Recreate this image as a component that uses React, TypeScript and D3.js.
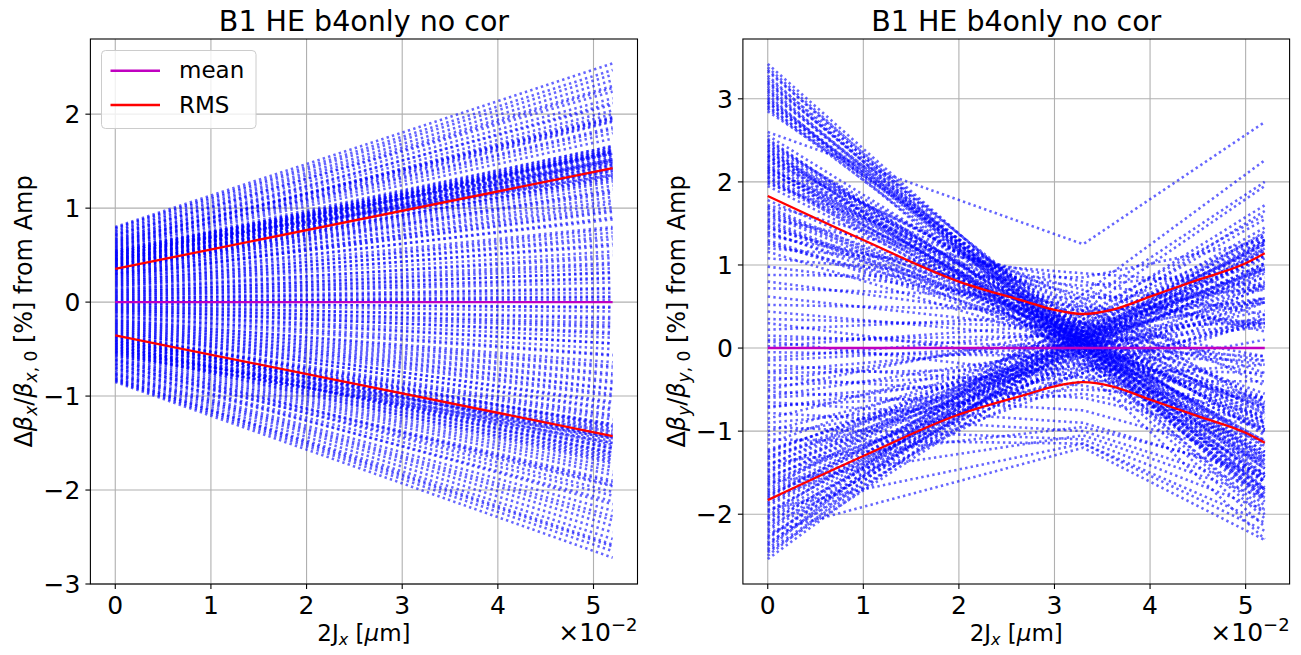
import React from "react";
import * as d3 from "d3";

// ---------- shared labels / ticks ----------
const TITLE = "B1 HE b4only no cor";
const X_TICKS = [0, 1, 2, 3, 4, 5];
const LEFT_Y_TICKS = [-3, -2, -1, 0, 1, 2];
const RIGHT_Y_TICKS = [-2, -1, 0, 1, 2, 3];
const LEGEND_LABELS = ["mean", "RMS"];

// ---------- left panel (Δβx) : value at 2Jx = 0 and at 2Jx = 5.2 (×1e-2) ----------
const LEFT_X = [0, 5.2];
const LEFT_LINES: number[][] = [
  [0.80, 2.54], [0.79, 2.47], [0.78, 2.42], [0.76, 2.36], [0.75, 2.30], [0.73, 2.24], [0.72, 2.17],
  [0.70, 2.10], [0.68, 2.04], [0.66, 1.97], [0.65, 1.95], [0.64, 1.96], [0.62, 1.93], [0.61, 1.86],
  [0.60, 1.84], [0.58, 1.80], [0.57, 1.74], [0.56, 1.50], [0.55, 1.66], [0.54, 1.35], [0.53, 1.63],
  [0.52, 1.61], [0.51, 1.42], [0.50, 1.60], [0.49, 1.58], [0.48, 1.56], [0.47, 1.62], [0.46, 1.54],
  [0.45, 1.52], [0.44, 1.50], [0.43, 1.47], [0.42, 1.60], [0.41, 1.43], [0.40, 1.40], [0.39, 1.38],
  [0.38, 1.52], [0.37, 1.33], [0.36, 1.30], [0.35, 1.28], [0.34, 1.24], [0.33, 1.16], [0.31, 1.08],
  [0.30, 1.01], [0.29, 0.96], [0.27, 0.88], [0.25, 0.80], [0.23, 0.74], [0.22, 0.67], [0.20, 0.60],
  [0.18, 0.54], [0.16, 0.47], [0.14, 0.42], [0.12, 0.36], [0.11, 0.31], [0.09, 0.26], [0.07, 0.21],
  [0.05, 0.15], [0.04, 0.10], [0.02, 0.06], [0.01, 0.02],
  [0.55, 1.58], [0.53, 1.52], [0.52, 1.66], [0.50, 1.48], [0.49, 1.64], [0.47, 1.40], [0.46, 1.60],
  [0.45, 1.45], [0.44, 1.58], [0.43, 1.36], [0.41, 1.50], [0.40, 1.32], [0.39, 1.46], [0.37, 1.42],
  [0.36, 1.18], [0.34, 1.35], [0.32, 1.20], [0.30, 1.12], [0.28, 0.98], [0.26, 1.05], [0.24, 0.90],
  [0.21, 0.78], [0.19, 0.70], [0.17, 0.62], [0.13, 0.50], [0.10, 0.40], [0.08, 0.32], [0.06, 0.25],
  [0.03, 0.14], [0.00, 0.05], [0.63, 2.00], [0.67, 2.12], [0.59, 1.92], [0.71, 2.28],
  [-0.85, -2.72], [-0.84, -2.65], [-0.83, -2.60], [-0.82, -2.52], [-0.80, -2.45], [-0.78, -2.38],
  [-0.76, -2.28], [-0.75, -2.22], [-0.73, -2.12], [-0.71, -2.06], [-0.69, -1.96], [-0.67, -1.92],
  [-0.65, -1.90], [-0.63, -1.84], [-0.61, -1.80], [-0.60, -1.76], [-0.58, -1.72], [-0.57, -1.45],
  [-0.56, -1.68], [-0.54, -1.64], [-0.53, -1.38], [-0.52, -1.60], [-0.50, -1.56], [-0.49, -1.54],
  [-0.47, -1.50], [-0.46, -1.62], [-0.44, -1.44], [-0.43, -1.40], [-0.41, -1.37], [-0.40, -1.33],
  [-0.38, -1.30], [-0.37, -1.48], [-0.36, -1.25], [-0.35, -1.20], [-0.33, -1.13], [-0.32, -1.06],
  [-0.30, -1.00], [-0.28, -0.93], [-0.26, -0.86], [-0.24, -0.78], [-0.22, -0.70], [-0.20, -0.64],
  [-0.18, -0.57], [-0.16, -0.50], [-0.14, -0.44], [-0.12, -0.38], [-0.10, -0.32], [-0.09, -0.27],
  [-0.07, -0.22], [-0.05, -0.16], [-0.03, -0.10], [-0.02, -0.05],
  [-0.55, -1.50], [-0.53, -1.70], [-0.51, -1.45], [-0.50, -1.66], [-0.48, -1.42], [-0.47, -1.60],
  [-0.45, -1.35], [-0.44, -1.56], [-0.42, -1.30], [-0.41, -1.52], [-0.39, -1.44], [-0.37, -1.22],
  [-0.34, -1.32], [-0.31, -1.15], [-0.29, -1.08], [-0.27, -0.98], [-0.25, -0.92], [-0.23, -0.84],
  [-0.21, -0.76], [-0.19, -0.68], [-0.15, -0.56], [-0.11, -0.44], [-0.08, -0.34], [-0.06, -0.25],
  [-0.04, -0.18], [-0.01, -0.06], [-0.62, -1.95], [-0.66, -2.02], [-0.70, -2.15], [-0.77, -2.32],
  [-0.81, -2.58],
];
const LEFT_MEAN_X = [0, 5.2];
const LEFT_MEAN = [0, 0];
const LEFT_RMS_X = [0, 5.2];
const LEFT_RMS = [0.354, 1.425];

// ---------- right panel (Δβy) : value at 2Jx = 0, 3.3 and 5.2 (×1e-2) ----------
const RIGHT_X = [0, 3.3, 5.2];
const RIGHT_LINES: number[][] = [
  [3.42, 0.05, -1.90], [3.38, -0.05, -2.00], [3.33, 0.10, -1.75], [3.28, -0.15, -2.15],
  [3.22, 0.00, -1.85], [3.18, 0.20, -1.55], [3.15, -0.10, -1.95], [3.12, 0.05, -1.72],
  [3.08, 0.15, -1.60], [3.05, -0.25, -2.30], [3.02, 0.00, -1.78], [2.98, 0.10, -1.62],
  [2.95, 0.25, -1.45], [2.92, -0.05, -1.80], [2.88, 0.05, -1.70], [2.85, 0.30, -1.35],
  [3.20, 0.05, -1.80], [3.10, 0.00, -1.82], [3.00, 0.12, -1.60], [2.96, 0.05, -1.68],
  [3.25, 0.15, -1.70], [3.35, -0.10, -2.05], [2.90, 0.18, -1.52],
  [2.60, 1.25, 2.72],
  [2.56, 0.20, -1.25], [2.52, -0.10, -1.62], [2.48, 0.05, -1.38], [2.45, 0.30, -1.05],
  [2.42, -0.20, -1.70], [2.40, 0.10, -1.30], [2.37, 0.00, -1.42], [2.34, 0.40, -0.90],
  [2.31, -0.05, -1.45], [2.28, 0.15, -1.18], [2.25, 0.55, -0.70], [2.22, 0.05, -1.28],
  [2.20, -0.15, -1.52], [2.17, 0.25, -1.02], [2.14, 0.00, -1.30], [2.11, 0.35, -0.85],
  [2.08, 0.10, -1.12], [2.05, -0.10, -1.40], [2.02, 0.20, -0.98], [1.98, 0.60, -0.45],
  [1.95, 0.05, -1.15],
  [2.50, 0.05, -1.45], [2.44, 0.10, -1.35], [2.38, -0.08, -1.55], [2.32, 0.20, -1.20],
  [2.26, 0.00, -1.38], [2.18, 0.08, -1.25], [2.12, 0.15, -1.15], [2.06, 0.00, -1.32],
  [2.00, 0.10, -1.12], [2.30, 0.45, -0.80], [2.15, 0.50, -0.65],
  [1.78, 0.15, -0.95], [1.72, 0.70, 0.20], [1.68, 0.00, -1.00], [1.64, 0.30, -0.60],
  [1.60, 0.10, -0.85], [1.56, 0.80, 0.40], [1.52, -0.05, -0.98], [1.48, 0.20, -0.65],
  [1.44, 0.45, -0.30], [1.40, 0.05, -0.78], [1.35, 0.65, 0.25], [1.30, 0.10, -0.68],
  [1.25, 0.30, -0.35], [1.20, 0.90, 0.75], [1.16, 0.00, -0.70],
  [1.70, 0.10, -0.90], [1.62, 0.20, -0.75], [1.54, 0.05, -0.88], [1.46, 0.15, -0.72],
  [1.38, 0.25, -0.55], [1.28, 0.05, -0.72],
  [1.08, 0.75, 0.95], [0.98, 0.50, 0.30], [0.88, 0.85, 1.30], [0.80, 0.30, -0.10],
  [0.72, 0.60, 0.70], [0.62, 0.20, -0.15], [0.52, 0.45, 0.55], [0.44, 0.10, -0.20],
  [0.35, 0.25, 0.30], [0.30, -0.20, -0.60], [0.22, 0.40, 0.75], [0.15, 0.00, -0.10],
  [0.08, -0.35, -0.80], [0.02, 0.30, 0.60], [-0.05, -0.10, -0.15], [-0.12, 0.20, 0.55],
  [-0.20, -0.45, -0.90], [-0.28, 0.05, 0.30], [-0.35, -0.60, -1.10], [-0.40, 0.15, 0.60],
  [-0.60, -0.35, -0.20], [-0.30, -0.25, -0.30], [-0.15, 0.05, 0.25], [0.10, 0.15, 0.35],
  [-0.70, -0.50, -0.60], [-0.50, 0.25, 0.85],
  [-0.45, -0.30, 0.10], [-0.52, -0.75, -1.35], [-0.58, 0.00, 0.45], [-0.65, -0.90, -1.55],
  [-0.72, -0.20, 0.30], [-0.78, -1.00, -1.70], [-0.85, 0.10, 0.75], [-0.90, -0.55, -0.95],
  [-0.95, -1.10, -1.95], [-1.00, -0.05, 0.60], [-1.05, -0.40, -0.40], [-1.10, -1.15, -2.10],
  [-1.15, 0.20, 0.95],
  [-1.22, -0.10, 0.55], [-1.26, 0.15, 0.95], [-1.30, -0.25, 0.35], [-1.34, 0.05, 0.80],
  [-1.38, -0.95, -1.50], [-1.42, 0.30, 1.20], [-1.46, -0.05, 0.72], [-1.50, 0.10, 0.95],
  [-1.54, -0.30, 0.40], [-1.58, 0.20, 1.15], [-1.62, -1.05, -1.80], [-1.66, 0.00, 0.90],
  [-1.70, 0.35, 1.35], [-1.74, -0.15, 0.78], [-1.78, 0.10, 1.08], [-1.82, -0.40, 0.35],
  [-1.86, 0.25, 1.30], [-1.90, -0.05, 0.95], [-1.94, -1.15, -2.20], [-1.98, 0.15, 1.25],
  [-2.02, 0.40, 1.60], [-2.06, -0.10, 1.00], [-2.10, 0.05, 1.20], [-2.14, -0.25, 0.75],
  [-2.18, 0.30, 1.55], [-2.22, -1.20, -2.31], [-2.26, 0.10, 1.30], [-2.30, 0.55, 2.00],
  [-2.34, -0.05, 1.18], [-2.38, 0.20, 1.45], [-2.42, 0.65, 2.26], [-2.46, 0.00, 1.28],
  [-2.50, 0.45, 1.95], [-2.54, 0.25, 1.65],
  [-1.24, 0.05, 0.85], [-1.32, 0.10, 0.98], [-1.40, 0.00, 0.92], [-1.48, 0.15, 1.10],
  [-1.56, 0.05, 1.02], [-1.64, 0.12, 1.12], [-1.72, 0.00, 1.02], [-1.80, 0.18, 1.25],
  [-1.88, 0.08, 1.18], [-1.96, 0.00, 1.12], [-2.04, 0.12, 1.28], [-2.12, 0.20, 1.38],
  [-2.20, 0.05, 1.25], [-2.28, 0.15, 1.35], [-2.36, 0.35, 1.72], [-2.44, 0.10, 1.40],
  [-1.60, -0.20, 0.60], [-1.76, -0.30, 0.55],
];
const RIGHT_MEAN_X = [0, 5.2];
const RIGHT_MEAN = [0, 0];
const RIGHT_RMS_X = [0, 1, 2, 2.7, 3.0, 3.3, 3.6, 4.0, 4.5, 5.0, 5.2];
const RIGHT_RMS = [1.83, 1.3, 0.8, 0.56, 0.46, 0.41, 0.46, 0.62, 0.82, 1.02, 1.14];

// ---------- styling ----------
const FONT = "DejaVu Sans, Liberation Sans, sans-serif";
const BLUE = "#0000ff";
const RED = "#ff0000";
const MAGENTA = "#c000c0";
const GRID = "#b0b0b0";

type Box = { l: number; r: number; t: number; b: number };

function YLabel({ x, y, axis }: { x: number; y: number; axis: string }) {
  return (
    <text
      transform={`translate(${x},${y}) rotate(-90)`}
      textAnchor="middle"
      fontFamily={FONT}
      fontSize={24}
      fill="#000"
    >
      <tspan>Δ</tspan>
      <tspan fontStyle="italic">β</tspan>
      <tspan fontStyle="italic" fontSize={17} dy={5}>{axis}</tspan>
      <tspan dy={-5}>/</tspan>
      <tspan fontStyle="italic">β</tspan>
      <tspan fontSize={17} dy={5}>
        <tspan fontStyle="italic">{axis}</tspan>, 0
      </tspan>
      <tspan dy={-5}> [%] from Amp</tspan>
    </text>
  );
}

function Panel(props: {
  box: Box;
  xDomain: [number, number];
  yDomain: [number, number];
  yTicks: number[];
  xs: number[];
  lines: number[][];
  meanX: number[];
  mean: number[];
  rmsX: number[];
  rms: number[];
  axis: string;
  legend: boolean;
}) {
  const { box, xDomain, yDomain, yTicks, xs, lines, meanX, mean, rmsX, rms, axis, legend } = props;
  const x = d3.scaleLinear().domain(xDomain).range([box.l, box.r]);
  const y = d3.scaleLinear().domain(yDomain).range([box.b, box.t]);
  const line = d3
    .line<[number, number]>()
    .x((d) => x(d[0]))
    .y((d) => y(d[1]));
  const smooth = d3
    .line<[number, number]>()
    .x((d) => x(d[0]))
    .y((d) => y(d[1]))
    .curve(d3.curveMonotoneX);
  const cx = (box.l + box.r) / 2;
  const cy = (box.t + box.b) / 2;

  return (
    <g>
      {X_TICKS.map((t) => (
        <line key={"gx" + t} x1={x(t)} x2={x(t)} y1={box.t} y2={box.b} stroke={GRID} strokeWidth={1.1} />
      ))}
      {yTicks.map((t) => (
        <line key={"gy" + t} x1={box.l} x2={box.r} y1={y(t)} y2={y(t)} stroke={GRID} strokeWidth={1.1} />
      ))}
      <g fill="none" stroke={BLUE} strokeOpacity={0.6} strokeWidth={2.6} strokeDasharray="2.4,3.2">
        {lines.map((vals, i) => (
          <path key={i} d={line(xs.map((xv, j) => [xv, vals[j]] as [number, number])) || ""} />
        ))}
      </g>
      <path
        d={line(meanX.map((xv, j) => [xv, mean[j]] as [number, number])) || ""}
        fill="none"
        stroke={MAGENTA}
        strokeWidth={2.4}
      />
      <path
        d={smooth(rmsX.map((xv, j) => [xv, rms[j]] as [number, number])) || ""}
        fill="none"
        stroke={RED}
        strokeWidth={2.3}
      />
      <path
        d={smooth(rmsX.map((xv, j) => [xv, -rms[j]] as [number, number])) || ""}
        fill="none"
        stroke={RED}
        strokeWidth={2.3}
      />
      <rect x={box.l} y={box.t} width={box.r - box.l} height={box.b - box.t} fill="none" stroke="#000" strokeWidth={1.1} />
      {X_TICKS.map((t) => (
        <g key={"tx" + t}>
          <line x1={x(t)} x2={x(t)} y1={box.b} y2={box.b + 5} stroke="#000" strokeWidth={1.1} />
          <text x={x(t)} y={box.b + 30} textAnchor="middle" fontFamily={FONT} fontSize={25}>
            {t}
          </text>
        </g>
      ))}
      {yTicks.map((t) => (
        <g key={"ty" + t}>
          <line x1={box.l - 5} x2={box.l} y1={y(t)} y2={y(t)} stroke="#000" strokeWidth={1.1} />
          <text x={box.l - 10} y={y(t)} dy="0.36em" textAnchor="end" fontFamily={FONT} fontSize={25}>
            {t < 0 ? "\u2212" + Math.abs(t) : String(t)}
          </text>
        </g>
      ))}
      <text x={box.r} y={641} textAnchor="end" fontFamily={FONT} fontSize={25}>
        ×10
        <tspan fontSize={18} dy={-10}>
          {"\u2212"}2
        </tspan>
      </text>
      <text x={cx} y={641} textAnchor="middle" fontFamily={FONT} fontSize={23}>
        2J
        <tspan fontStyle="italic" fontSize={16} dy={4}>
          x
        </tspan>
        <tspan dy={-4}> [</tspan>
        <tspan fontStyle="italic">μ</tspan>
        <tspan>m]</tspan>
      </text>
      <YLabel x={box.l - 58} y={cy} axis={axis} />
      <text x={cx} y={31} textAnchor="middle" fontFamily={FONT} fontSize={28.5}>
        {TITLE}
      </text>
      {legend && (
        <g>
          <rect x={101.5} y={50.5} width={154.5} height={78} rx={4} fill="#fff" fillOpacity={0.8} stroke="#cccccc" strokeWidth={1} />
          <line x1={110.5} x2={160} y1={70.7} y2={70.7} stroke={MAGENTA} strokeWidth={2.4} />
          <line x1={110.5} x2={160} y1={105} y2={105} stroke={RED} strokeWidth={2.3} />
          <text x={179} y={78} fontFamily={FONT} fontSize={23}>
            {LEGEND_LABELS[0]}
          </text>
          <text x={179} y={113} fontFamily={FONT} fontSize={23}>
            {LEGEND_LABELS[1]}
          </text>
        </g>
      )}
    </g>
  );
}

export default function App() {
  return (
    <svg
      width={1301}
      height={655}
      style={{ position: "absolute", left: 0, top: 0, background: "#fff" }}
    >
      <rect x={0} y={0} width={1301} height={655} fill="#fff" />
      <Panel
        box={{ l: 90.4, r: 637.5, t: 39, b: 584 }}
        xDomain={[-0.26, 5.46]}
        yDomain={[-3.0, 2.8]}
        yTicks={LEFT_Y_TICKS}
        xs={LEFT_X}
        lines={LEFT_LINES}
        meanX={LEFT_MEAN_X}
        mean={LEFT_MEAN}
        rmsX={LEFT_RMS_X}
        rms={LEFT_RMS}
        axis="x"
        legend={true}
      />
      <Panel
        box={{ l: 742.9, r: 1289.6, t: 39, b: 584 }}
        xDomain={[-0.26, 5.46]}
        yDomain={[-2.84, 3.72]}
        yTicks={RIGHT_Y_TICKS}
        xs={RIGHT_X}
        lines={RIGHT_LINES}
        meanX={RIGHT_MEAN_X}
        mean={RIGHT_MEAN}
        rmsX={RIGHT_RMS_X}
        rms={RIGHT_RMS}
        axis="y"
        legend={false}
      />
    </svg>
  );
}
